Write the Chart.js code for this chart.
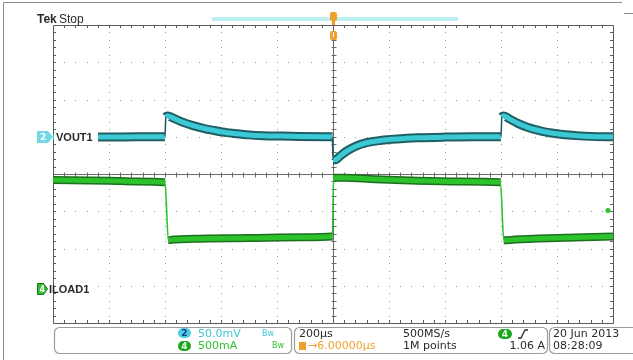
<!DOCTYPE html>
<html>
<head>
<meta charset="utf-8">
<script src="https://cdn.jsdelivr.net/npm/chart.js@4.4.0/dist/chart.umd.min.js"></script>
<style>
  html, body { margin: 0; padding: 0; background: #fff; }
  canvas { display: block; }
</style>
</head>
<body>
<canvas id="scope" width="633" height="360"></canvas>
<script>
// horizontal: 200us/div, 10 divs, trigger at centre
const timeMin = -1000
const timeMax = 1000
const divsX = 10
const divsY = 8

// CH2 VOUT1, 50mV/div, ground marker ~1 div above centre
const voutScale = 50
const voutPos = 1.0
const voutTime = [-1000, -900, -800, -700, -605, -600, -597, -590, -570, -540, -500, -460, -420, -380, -340, -300, -250, -200, -120, -2,
  0, 8, 25, 50, 80, 120, 170, 230, 300, 400, 500, 598,
  600, 603, 610, 630, 660, 700, 740, 780, 820, 870, 920, 1000]
const voutMv = [0, 0.5, -0.5, 0, 0, 0, 27, 28, 25, 20, 15, 11, 8, 5.5, 4, 2.5, 1.5, 1, 0.5, 0,
  -31, -31, -26, -19, -13, -8, -5, -3, -1.5, -0.5, 0, 0,
  0, 27, 28, 24, 18, 12, 8, 5, 3, 1.5, 0.5, 0]

// CH4 ILOAD1, 500mA/div
const iloadScale = 0.5
const iloadPos = -3.1
const iloadTime = [-1000, -800, -700, -600, -588, -570, -500, -300, -100, -2,
  2, 40, 150, 300, 450, 598,
  610, 650, 800, 1000]
const iloadAmp = [1.47, 1.46, 1.45, 1.44, 0.66, 0.67, 0.68, 0.69, 0.70, 0.71,
  1.50, 1.50, 1.48, 1.46, 1.45, 1.44,
  0.66, 0.67, 0.69, 0.71]

// trigger: CH4 rising, 1.06 A
const trigTime = 982
const trigLevel = 1.06

// readout texts
const ch2Volts = '50.0mV'
const ch4Amps = '500mA'
const horizScale = '200µs'
const horizDelay = '→6.00000µs'
const sampleRate = '500MS/s'
const recordLen = '1M points'
const trigReadout = '1.06 A'
const dateText = '20 Jun 2013'
const timeText = '08:28:09'

const cyanDark = '#1f5f63'
const cyan = '#3cc9d6'
const greenDark = '#1d6e1d'
const green = '#2cc22c'
const orange = '#f0a02a'
const readFont = '11px "DejaVu Sans"'

function toPoints(times, vals, scale, pos) {
  return times.map((t, i) => ({x: t, y: pos + vals[i] / scale}))
}

function isStep(c) {
  let dx = Math.abs(c.p1.parsed.x - c.p0.parsed.x)
  let dy = Math.abs(c.p1.parsed.y - c.p0.parsed.y)
  return dx < 15 && dy > 0.4
}

// lower `order` is drawn on top
function traceSets(data, dark, bright, edge, wide, core, base) {
  return [
    {data: data, order: base + 2, borderColor: dark, borderWidth: wide,
      segment: {borderColor: (c) => isStep(c) ? 'rgba(0,0,0,0)' : dark}},
    {data: data, order: base + 1, borderColor: bright, borderWidth: core,
      segment: {borderColor: (c) => isStep(c) ? 'rgba(0,0,0,0)' : bright}},
    {data: data, order: base, borderColor: edge, borderWidth: 1.6,
      segment: {borderColor: (c) => isStep(c) ? edge : 'rgba(0,0,0,0)'}},
  ]
}

const voutData = toPoints(voutTime, voutMv, voutScale, voutPos)
const iloadData = toPoints(iloadTime, iloadAmp, iloadScale, iloadPos)

const graticule = {
  id: 'graticule',
  beforeDatasetsDraw(chart) {
    const ctx = chart.ctx
    const a = chart.chartArea
    const dx = (a.right - a.left) / divsX
    const dy = (a.bottom - a.top) / divsY
    ctx.save()
    ctx.fillStyle = '#9a9a9a'
    for (let i = 1; i < divsX; i++) {
      if (i === divsX / 2) continue
      let x = Math.round(a.left + i * dx)
      for (let k = 1; k < divsY * 5; k++) ctx.fillRect(x, Math.round(a.top + k * dy / 5), 1, 1)
    }
    for (let j = 1; j < divsY; j++) {
      if (j === divsY / 2) continue
      let y = Math.round(a.top + j * dy)
      for (let k = 1; k < divsX * 5; k++) ctx.fillRect(Math.round(a.left + k * dx / 5), y, 1, 1)
    }
    // centre cross
    ctx.strokeStyle = '#6a6a6a'
    ctx.lineWidth = 1
    let cx = Math.round(a.left + dx * divsX / 2) + 0.5
    let cy = Math.round(a.top + dy * divsY / 2) + 0.5
    ctx.beginPath()
    ctx.moveTo(cx, a.top); ctx.lineTo(cx, a.bottom)
    ctx.moveTo(a.left, cy); ctx.lineTo(a.right, cy)
    for (let k = 1; k < divsY * 5; k++) {
      let y = Math.round(a.top + k * dy / 5) + 0.5
      ctx.moveTo(cx - 2, y); ctx.lineTo(cx + 3, y)
    }
    for (let k = 1; k < divsX * 5; k++) {
      let x = Math.round(a.left + k * dx / 5) + 0.5
      ctx.moveTo(x, cy - 2); ctx.lineTo(x, cy + 3)
    }
    ctx.stroke()
    // frame with inward ticks
    ctx.strokeStyle = '#5a5a5a'
    ctx.beginPath()
    ctx.rect(a.left + 0.5, a.top + 0.5, a.right - a.left, a.bottom - a.top)
    for (let k = 1; k < divsX * 5; k++) {
      let x = Math.round(a.left + k * dx / 5) + 0.5
      ctx.moveTo(x, a.top); ctx.lineTo(x, a.top + 3)
      ctx.moveTo(x, a.bottom); ctx.lineTo(x, a.bottom - 3)
    }
    for (let k = 1; k < divsY * 5; k++) {
      let y = Math.round(a.top + k * dy / 5) + 0.5
      ctx.moveTo(a.left, y); ctx.lineTo(a.left + 3, y)
      ctx.moveTo(a.right, y); ctx.lineTo(a.right - 3, y)
    }
    ctx.stroke()
    ctx.restore()
  },
}

function pill(ctx, x, y, w, h, fill, label, txt) {
  ctx.save()
  ctx.fillStyle = fill
  ctx.beginPath()
  ctx.roundRect(x, y, w, h, h / 2)
  ctx.fill()
  ctx.fillStyle = txt
  ctx.font = 'bold 9px "DejaVu Sans"'
  ctx.textAlign = 'center'
  ctx.textBaseline = 'middle'
  ctx.fillText(label, x + w / 2, y + h / 2 + 0.5)
  ctx.restore()
}

const overlay = {
  id: 'overlay',
  afterDraw(chart) {
    const ctx = chart.ctx
    const xs = chart.scales.x
    const ys = chart.scales.y
    const a = chart.chartArea
    ctx.save()

    // outer frame
    ctx.strokeStyle = '#8c8c8c'
    ctx.lineWidth = 1
    ctx.beginPath()
    ctx.moveTo(3.5, 360); ctx.lineTo(3.5, 2.5); ctx.lineTo(622, 2.5)
    ctx.moveTo(624, 13.5); ctx.lineTo(633, 13.5)
    ctx.stroke()

    // header
    ctx.fillStyle = '#2b2b2b'
    ctx.textBaseline = 'alphabetic'
    ctx.font = 'bold 12px "Liberation Sans"'
    ctx.fillText('Tek', 37, 23)
    ctx.font = '12px "Liberation Sans"'
    ctx.fillText('Stop', 59, 23)

    // record view bar
    ctx.fillStyle = '#bdeef4'
    ctx.fillRect(212, 17, 246, 4)

    // trigger position marker
    let tx = Math.round(xs.getPixelForValue(0))
    ctx.fillStyle = orange
    ctx.beginPath()
    ctx.roundRect(tx - 3, 12, 7, 9, 2)
    ctx.fill()
    ctx.fillRect(tx - 1, 21, 3, 4)
    ctx.beginPath()
    ctx.roundRect(tx - 3, 31, 7, 9, 2)
    ctx.fill()
    ctx.fillStyle = '#fff'
    ctx.fillRect(tx, 32, 1, 5)

    // CH2 label
    let y2 = Math.round(ys.getPixelForValue(voutPos))
    ctx.fillStyle = '#fff'
    ctx.fillRect(a.left + 1, y2 - 7, 97 - a.left, 14)
    ctx.fillStyle = '#74d8e6'
    ctx.beginPath()
    ctx.moveTo(37, y2 - 6); ctx.lineTo(48, y2 - 6); ctx.lineTo(53, y2)
    ctx.lineTo(48, y2 + 6); ctx.lineTo(37, y2 + 6); ctx.closePath()
    ctx.fill()
    ctx.fillStyle = '#fff'
    ctx.font = 'bold 9px "DejaVu Sans"'
    ctx.textBaseline = 'middle'
    ctx.fillText('2', 40, y2 + 1)
    ctx.fillStyle = '#2a2a2a'
    ctx.font = 'bold 11px "Liberation Sans"'
    ctx.fillText('VOUT1', 56, y2 + 1)

    // CH4 label
    let y4 = Math.round(ys.getPixelForValue(iloadPos))
    ctx.fillStyle = green
    ctx.strokeStyle = greenDark
    ctx.beginPath()
    ctx.moveTo(37.5, y4 - 5.5); ctx.lineTo(43.5, y4 - 5.5); ctx.lineTo(47.5, y4)
    ctx.lineTo(43.5, y4 + 5.5); ctx.lineTo(37.5, y4 + 5.5); ctx.closePath()
    ctx.fill(); ctx.stroke()
    ctx.fillStyle = '#fff'
    ctx.font = 'bold 8px "DejaVu Sans"'
    ctx.fillText('4', 39.5, y4 + 1)
    ctx.fillStyle = '#2a2a2a'
    ctx.font = 'bold 11px "Liberation Sans"'
    ctx.fillText('ILOAD1', 49, y4 + 1)

    // readout boxes
    ctx.strokeStyle = '#9c9c9c'
    ctx.lineWidth = 1.2
    for (let [x0, x1] of [[54.5, 291.5], [294.5, 547.5], [549.5, 650]]) {
      ctx.beginPath()
      ctx.roundRect(x0, 327.5, x1 - x0, 26, 5)
      ctx.stroke()
    }
    ctx.textBaseline = 'middle'
    pill(ctx, 178, 328, 13, 10, '#4fd0e2', '2', '#1b3a8a')
    pill(ctx, 178, 341, 13, 10, '#1fa51f', '4', '#e8ffe8')
    ctx.font = readFont
    ctx.fillStyle = cyan
    ctx.fillText(ch2Volts, 198, 334)
    ctx.font = '8px "DejaVu Sans"'
    ctx.fillText('Bw', 262, 334)
    ctx.font = readFont
    ctx.fillStyle = green
    ctx.fillText(ch4Amps, 198, 346)
    ctx.font = '8px "DejaVu Sans"'
    ctx.fillText('Bw', 272, 346)

    ctx.font = readFont
    ctx.fillStyle = '#2a2a2a'
    ctx.fillText(horizScale, 299, 334)
    ctx.fillText(sampleRate, 403, 334)
    ctx.fillText(recordLen, 403, 346)
    ctx.fillStyle = orange
    ctx.fillRect(299, 342, 7, 8)
    ctx.fillText(horizDelay, 308, 346)

    pill(ctx, 498, 329, 14, 10, '#1fa51f', '4', '#e8ffe8')
    ctx.strokeStyle = '#2a2a2a'
    ctx.lineWidth = 1.3
    ctx.beginPath()
    ctx.moveTo(518, 338); ctx.lineTo(521, 338); ctx.lineTo(525, 330); ctx.lineTo(528, 330)
    ctx.stroke()
    ctx.font = readFont
    ctx.fillStyle = '#2a2a2a'
    ctx.textAlign = 'right'
    ctx.fillText(trigReadout, 545, 346)
    ctx.textAlign = 'left'
    ctx.fillText(dateText, 553, 334)
    ctx.fillText(timeText, 553, 346)

    ctx.restore()
  },
}

new Chart(document.getElementById('scope'), {
  type: 'line',
  data: {
    datasets: [
      {
        type: 'scatter',
        order: 0,
        data: [{x: trigTime, y: iloadPos + trigLevel / iloadScale}],
        pointRadius: 2.5,
        pointBackgroundColor: green,
        pointBorderWidth: 0,
      },
      ...traceSets(voutData, cyanDark, cyan, cyanDark, 9, 5, 1),
      ...traceSets(iloadData, greenDark, green, green, 8, 5, 4),
    ],
  },
  options: {
    responsive: false,
    animation: false,
    elements: {
      point: {radius: 0},
      line: {cubicInterpolationMode: 'monotone', borderCapStyle: 'butt', borderJoinStyle: 'round'},
    },
    layout: {padding: {left: 53, right: 20, top: 25, bottom: 37}},
    scales: {
      x: {type: 'linear', min: timeMin, max: timeMax, display: false},
      y: {type: 'linear', min: -divsY / 2, max: divsY / 2, display: false},
    },
    plugins: {
      legend: {display: false},
      tooltip: {enabled: false},
    },
  },
  plugins: [graticule, overlay],
})
</script>
</body>
</html>
